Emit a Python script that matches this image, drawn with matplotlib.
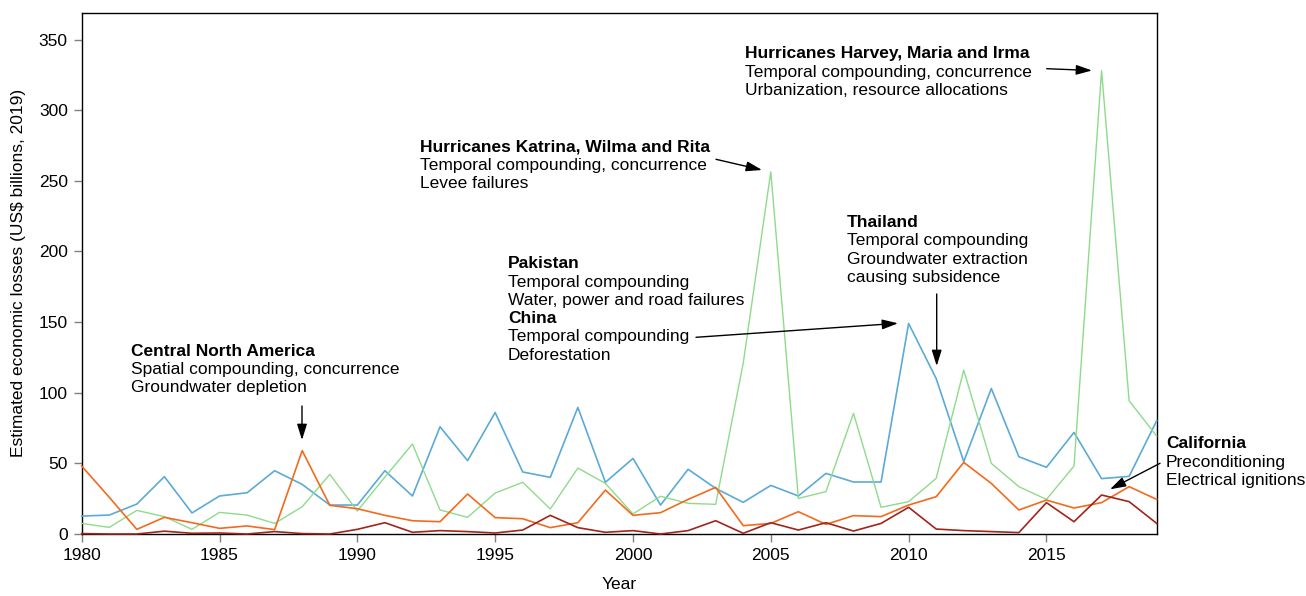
import matplotlib
matplotlib.use("Agg")
import matplotlib.pyplot as plt
import numpy as np

plt.rcParams['font.family'] = ['Liberation Sans', 'DejaVu Sans']

years = list(range(1980, 2020))

blue_vals = [12.7, 13.4, 21.2, 40.6, 14.9, 26.9, 29.2, 44.8, 35.1, 20.5,
             20.5, 44.8, 26.9, 75.9, 51.9, 86.0, 43.9, 40.1, 89.6, 36.6,
             53.5, 20.5, 45.8, 32.3, 22.4, 34.4, 26.9, 42.9, 36.8, 36.8,
             149.0, 110.0, 51.2, 103.0, 54.7, 47.2, 71.9, 39.2, 40.8, 80.2]
green_vals = [7.5, 4.7, 16.7, 12.3, 3.3, 15.3, 13.4, 7.5, 19.3, 42.2,
              16.3, 40.3, 63.7, 17.0, 11.8, 29.0, 36.6, 17.7, 46.7, 35.8,
              14.2, 26.7, 21.7, 21.0, 121.0, 256.4, 25.2, 30.0, 85.4, 18.9,
              22.9, 39.4, 116.0, 50.0, 33.5, 24.5, 48.1, 328.0, 94.3, 69.3]
orange_vals = [48.1, 26.0, 3.3, 11.8, 8.0, 4.0, 5.7, 3.1, 59.0, 20.3,
               17.9, 13.2, 9.4, 8.7, 28.3, 11.6, 10.8, 4.5, 8.0, 31.1,
               13.2, 15.1, 24.5, 33.0, 5.9, 7.5, 15.8, 6.8, 13.0, 12.3,
               20.5, 26.4, 50.7, 35.8, 17.0, 24.0, 18.4, 22.2, 33.5, 24.5]
darkred_vals = [0.3, 0.0, 0.0, 2.0, 0.5, 0.7, 0.0, 1.7, 0.3, 0.0,
                3.3, 8.0, 1.2, 2.4, 1.7, 0.7, 2.8, 13.2, 4.5, 1.2,
                2.4, 0.0, 2.4, 9.4, 0.5, 8.0, 2.8, 8.0, 2.1, 7.5,
                18.9, 3.5, 2.4, 1.7, 1.0, 22.2, 8.7, 27.6, 22.9, 7.5]

x_ticks = [1980, 1985, 1990, 1995, 2000, 2005, 2010, 2015]
y_ticks = [0, 50, 100, 150, 200, 250, 300, 350]

W, H = 1306, 596
fig = plt.figure(figsize=(W / 100, H / 100), dpi=100)
ax = fig.add_axes([81.7 / W, 1 - 534 / H, (1156.7 - 81.7) / W, (534 - 12.7) / H])

ax.plot(years, blue_vals, color='#5BAAD8', lw=1.2, clip_on=False, zorder=3)
ax.plot(years, green_vals, color='#8EDB8B', lw=1.0, clip_on=False, zorder=3)
ax.plot(years, orange_vals, color='#F26A1E', lw=1.2, clip_on=False, zorder=3)
ax.plot(years, darkred_vals, color='#A1251B', lw=1.2, clip_on=False, zorder=3)

ax.set_xlim(1980, 2019)
ax.set_ylim(0, 369)
ax.set_xticks(x_ticks)
ax.set_yticks(y_ticks)
ax.tick_params(axis='both', direction='out', length=6, width=1, color='#808080',
               labelsize=12.5, labelcolor='black', pad=4)
for s in ax.spines.values():
    s.set_linewidth(1.0)
    s.set_color('black')
ax.set_xlabel('Year', fontsize=12.5, labelpad=10)
ax.set_ylabel('Estimated economic losses (US$ billions, 2019)', fontsize=12.5, labelpad=9)

FS = 12.5
LS = 18.3


def block(xp, yp, lines, bold_idx=(0,)):
    for i, line in enumerate(lines):
        fig.text(xp / W, 1 - (yp + 5.5 + i * LS) / H, line, fontsize=FS,
                 fontweight='bold' if i in bold_idx else 'normal',
                 ha='left', va='baseline')


block(131, 350, ['Central North America', 'Spatial compounding, concurrence',
                 'Groundwater depletion'])
block(420, 146, ['Hurricanes Katrina, Wilma and Rita',
                 'Temporal compounding, concurrence', 'Levee failures'])
block(508, 262.7, ['Pakistan', 'Temporal compounding',
                   'Water, power and road failures', 'China',
                   'Temporal compounding', 'Deforestation'], bold_idx=(0, 3))
block(847, 221.7, ['Thailand', 'Temporal compounding',
                   'Groundwater extraction', 'causing subsidence'])
block(745, 52.7, ['Hurricanes Harvey, Maria and Irma',
                  'Temporal compounding, concurrence',
                  'Urbanization, resource allocations'])
block(1166, 442.7, ['California', 'Preconditioning', 'Electrical ignitions'])


def px2fig(xp, yp):
    return (xp / W, 1 - yp / H)


arrow_kw = dict(arrowstyle='-|>,head_length=0.8,head_width=0.25', color='black',
                lw=1.0, mutation_scale=12, shrinkA=0, shrinkB=0)


def arrow(x0, y0, x1, y1):
    ax.annotate('', xy=px2fig(x1, y1), xycoords='figure fraction',
                xytext=px2fig(x0, y0), textcoords='figure fraction',
                arrowprops=arrow_kw, annotation_clip=False)


arrow(302, 406, 302, 440)          # Central North America
arrow(716, 159.3, 762, 170)        # Katrina
arrow(696, 337.3, 898, 323.3)      # China
arrow(936.7, 294, 936.7, 366)      # Thailand
arrow(1046.7, 68.7, 1092, 70.5)    # Harvey
arrow(1160, 463.3, 1110, 489.3)    # California

fig.savefig('out.png', dpi=100)
